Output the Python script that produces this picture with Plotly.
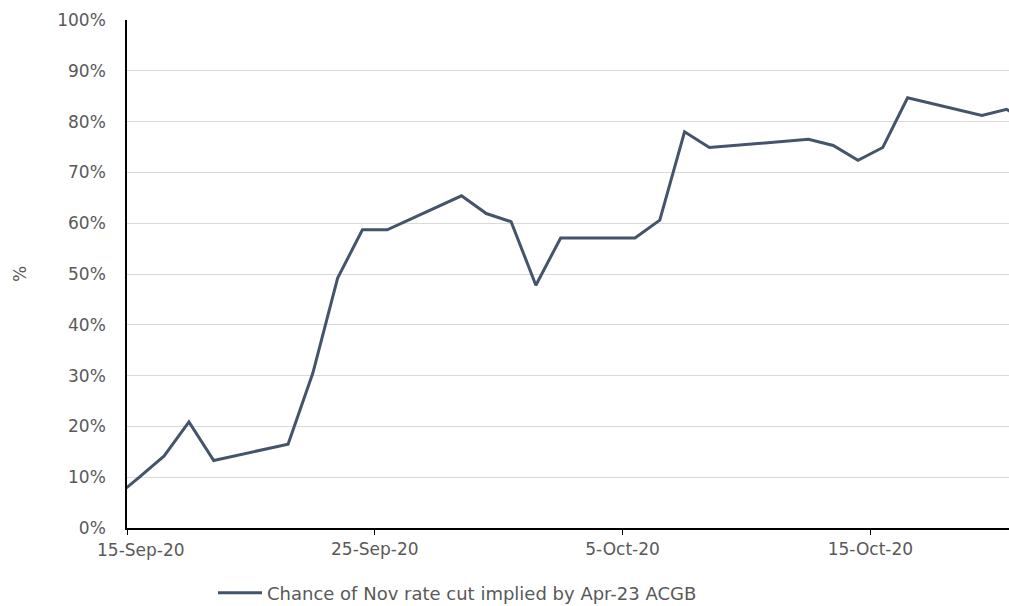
import pandas as pd
import plotly.graph_objects as go

dates = ["2020-09-14", "2020-09-15", "2020-09-16", "2020-09-17", "2020-09-18",
         "2020-09-21", "2020-09-22", "2020-09-23", "2020-09-24", "2020-09-25",
         "2020-09-28", "2020-09-29", "2020-09-30", "2020-10-01", "2020-10-02",
         "2020-10-05", "2020-10-06", "2020-10-07", "2020-10-08",
         "2020-10-12", "2020-10-13", "2020-10-14", "2020-10-15", "2020-10-16",
         "2020-10-19", "2020-10-20", "2020-10-21"]
chance = [6.0, 10.0, 14.2, 20.9, 13.3,
          16.5, 30.5, 49.2, 58.7, 58.7,
          65.4, 61.9, 60.3, 47.8, 57.1,
          57.1, 60.6, 78.0, 74.9,
          76.5, 75.3, 72.4, 74.9, 84.7,
          81.2, 82.4, 79.5]
series_name = "Chance of Nov rate cut implied by Apr-23 ACGB"
tick_dates = ["2020-09-15", "2020-09-25", "2020-10-05", "2020-10-15"]
tick_labels = ["15-Sep-20", "25-Sep-20", "5-Oct-20", "15-Oct-20"]
y_ticks = list(range(0, 101, 10))
y_labels = [f"{v}%" for v in y_ticks]

# each trading day is drawn in the middle of its day slot
x_pts = pd.to_datetime(dates) + pd.Timedelta(hours=12)

FONT = "DejaVu Sans"
GREY = "#595959"
FS = 17

fig = go.Figure()
fig.add_trace(go.Scatter(
    x=x_pts, y=chance, mode="lines", name=series_name,
    line=dict(color="#44546A", width=3),
))

W, H = 1009, 606
ml, mr, mt, mb = 127, 0, 20, 78
plot_w = W - ml - mr
days_span = plot_w / 24.78
x_start = pd.Timestamp("2020-09-15")
x_end = x_start + pd.Timedelta(days=days_span)

fig.update_layout(
    width=W, height=H,
    margin=dict(l=ml, r=mr, t=mt, b=mb, autoexpand=False),
    paper_bgcolor="white", plot_bgcolor="white",
    font=dict(family=FONT, size=FS, color=GREY),
    showlegend=True,
    legend=dict(orientation="h", xref="container", yref="container",
                x=213 / W, xanchor="left",
                y=(H - 593) / H, yanchor="middle", itemwidth=44,
                font=dict(family=FONT, size=18, color=GREY),
                bgcolor="rgba(0,0,0,0)"),
    xaxis=dict(
        type="date", range=[x_start, x_end], automargin=False,
        tickvals=pd.to_datetime(tick_dates),
        ticktext=[""] + tick_labels[1:],
        ticks="outside", ticklen=5, tickcolor="black", tickwidth=1,
        showline=True, linecolor="black", linewidth=1.5,
        showgrid=False, zeroline=False,
        tickfont=dict(family=FONT, size=FS, color=GREY),
    ),
    yaxis=dict(
        range=[0, 100], tickvals=y_ticks, ticktext=y_labels, automargin=False,
        showgrid=True, gridcolor="#D9D9D9", gridwidth=1,
        showline=True, linecolor="black", linewidth=1.5,
        ticks="", ticklabelstandoff=16, zeroline=False,
        tickfont=dict(family=FONT, size=FS, color=GREY),
        title=dict(text="%", standoff=26, font=dict(family=FONT, size=FS, color=GREY)),
    ),
)

# first date label is set in from the axis corner, as in the original
fig.add_annotation(x=x_start, y=0, xref="x", yref="y", text=tick_labels[0],
                   showarrow=False, xanchor="center", yanchor="top",
                   xshift=14, yshift=-10,
                   font=dict(family=FONT, size=FS, color=GREY))

fig.write_html("out.html")
